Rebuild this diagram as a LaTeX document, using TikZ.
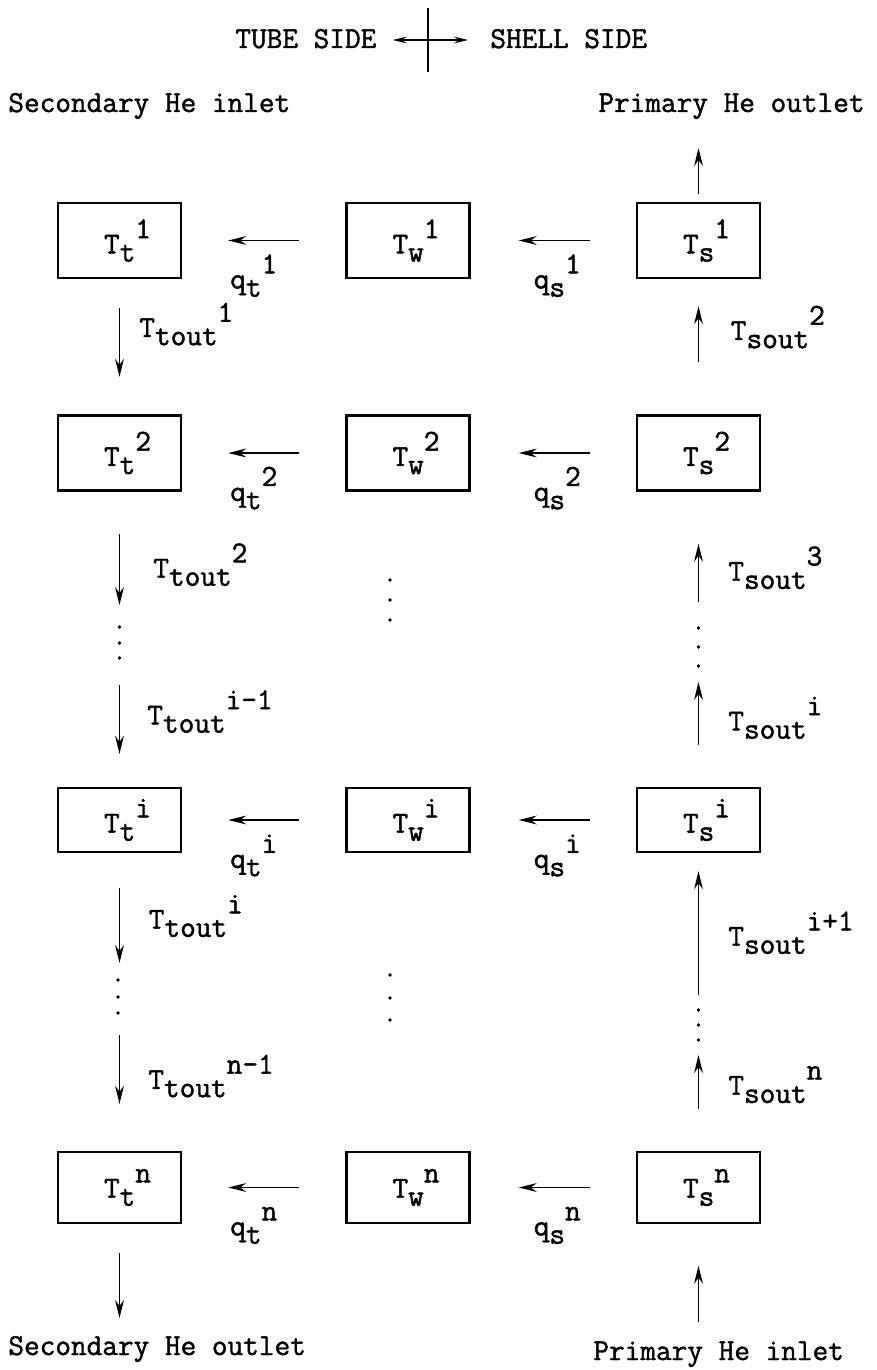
\documentclass[tikz,border=0pt]{standalone}
\usepackage{fontspec}
\usetikzlibrary{arrows.meta}
% typewriter face, slightly emboldened
\newfontfamily\typew{lmmono12-regular}[Extension=.otf, FakeBold=1.4]
\newcommand\diagfont{\typew\fontsize{15.2pt}{18pt}\selectfont}
% symbol with a lowered subscript and a raised superscript, typewriter style
\newcommand\vlab[3]{#1\raisebox{-0.27em}{#2}\raisebox{0.5em}{#3}}
\newcommand\cellab[3]{\hspace*{8pt}\vlab{#1}{#2}{#3}}
\begin{document}
\begin{tikzpicture}[x=0.5pt,y=-0.5pt,
  every node/.style={font=\diagfont, inner sep=0pt},
  cell/.style={draw, line width=1.2pt, minimum width=61.5pt, minimum height=37.5pt},
  flow/.style={-{Stealth[length=9pt,width=4.4pt,inset=3pt]}, line width=0.9pt},
  thinflow/.style={-{Stealth[length=7pt,width=3.4pt,inset=2.5pt]}, line width=0.7pt},
  qtlab/.style={midway, anchor=base, xshift=-5pt, yshift=-24pt},
  qslab/.style={midway, anchor=base, xshift=2pt, yshift=-24pt},
  vlabel/.style={midway, anchor=base west},
]
\useasboundingbox (0,0) rectangle (877,1370);

% ---- legend: tube side / shell side ----
\node[anchor=base west] (tube) at (235,48) {TUBE SIDE};
\node[anchor=base west] (shell) at (490,48) {SHELL SIDE};
\coordinate (cross) at (428,40);
\coordinate (crossTop) at (428,8);
\coordinate (crossBot) at (428,72);
\draw[line width=0.6pt] (crossTop) -- (crossBot);
\draw[thinflow, shorten >=8pt] (cross) -- (cross -| tube.east);
\draw[thinflow, shorten >=11pt] (cross) -- (cross -| shell.west);

% ---- inlets and outlets ----
\node[anchor=base west] (secIn) at (8,112) {Secondary He inlet};
\node[anchor=base west] (priOut) at (598,112) {Primary He outlet};
\node[anchor=base west] (secOut) at (8,1355) {Secondary He outlet};
\node[anchor=base west] (priIn) at (593,1360) {Primary He inlet};

% ---- temperature cells ----
\node[cell] (Tt1) at (119.5,240.5) {\cellab{T}{t}{1}};
\node[cell] (Tw1) at (408,240.5) {\cellab{T}{w}{1}};
\node[cell] (Ts1) at (698.5,240.5) {\cellab{T}{s}{1}};

\node[cell] (Tt2) at (119.5,453) {\cellab{T}{t}{2}};
\node[cell] (Tw2) at (408,453) {\cellab{T}{w}{2}};
\node[cell] (Ts2) at (698.5,453) {\cellab{T}{s}{2}};

\node[cell, minimum height=32pt] (Tti) at (119.5,820) {\cellab{T}{t}{i}};
\node[cell, minimum height=32pt] (Twi) at (408,820) {\cellab{T}{w}{i}};
\node[cell, minimum height=32pt] (Tsi) at (698.5,820) {\cellab{T}{s}{i}};

\node[cell, minimum height=35.5pt] (Ttn) at (119.5,1187.5) {\cellab{T}{t}{n}};
\node[cell, minimum height=35.5pt] (Twn) at (408,1187.5) {\cellab{T}{w}{n}};
\node[cell, minimum height=35.5pt] (Tsn) at (698.5,1187.5) {\cellab{T}{s}{n}};

% ---- heat flows: shell -> wall -> tube ----
\draw[flow, shorten <=23pt, shorten >=23pt] (Tw1) -- (Tt1) node[qtlab] {\vlab{q}{t}{1}};
\draw[flow, shorten <=23pt, shorten >=24pt] (Ts1) -- (Tw1) node[qslab] {\vlab{q}{s}{1}};
\draw[flow, shorten <=23pt, shorten >=23pt] (Tw2) -- (Tt2) node[qtlab] {\vlab{q}{t}{2}};
\draw[flow, shorten <=23pt, shorten >=24pt] (Ts2) -- (Tw2) node[qslab] {\vlab{q}{s}{2}};
\draw[flow, shorten <=23pt, shorten >=23pt] (Twi) -- (Tti) node[qtlab] {\vlab{q}{t}{i}};
\draw[flow, shorten <=23pt, shorten >=24pt] (Tsi) -- (Twi) node[qslab] {\vlab{q}{s}{i}};
\draw[flow, shorten <=23pt, shorten >=23pt] (Twn) -- (Ttn) node[qtlab] {\vlab{q}{t}{n}};
\draw[flow, shorten <=23pt, shorten >=24pt] (Tsn) -- (Twn) node[qslab] {\vlab{q}{s}{n}};

% ---- tube side, flowing down ----
\draw[flow, shorten <=14.5pt, shorten >=18.75pt] (Tt1) -- (Tt2)
  node[vlabel, xshift=9.5pt, yshift=4.9pt] {\vlab{T}{tout}{1}};
\coordinate (tA) at (119.5,605);
\draw[flow, shorten <=21.25pt] (Tt2) -- (tA)
  node[vlabel, xshift=16.5pt, yshift=-14.6pt] {\vlab{T}{tout}{2}};
\foreach \y in {627,643,658} \fill (119.5,\y) circle[radius=0.9pt];
\coordinate (tB) at (119.5,685);
\draw[flow, shorten >=16.5pt] (tB) -- (Tti)
  node[vlabel, xshift=13.5pt, yshift=5.75pt] {\vlab{T}{tout}{i-1}};
\coordinate (tC) at (119.5,963);
\draw[flow, shorten <=17.5pt] (Tti) -- (tC)
  node[vlabel, xshift=14.25pt, yshift=-10.25pt] {\vlab{T}{tout}{i}};
\foreach \y in {980,997,1013} \fill (118,\y) circle[radius=0.9pt];
\coordinate (tD) at (119.5,1035);
\draw[flow, shorten >=23.5pt] (tD) -- (Ttn)
  node[vlabel, xshift=14pt, yshift=2pt] {\vlab{T}{tout}{n-1}};
\coordinate (tE) at (119.5,1318);
\draw[flow, shorten <=14.5pt] (Ttn) -- (tE);

% ---- wall column continuation ----
\foreach \y in {580,600,620} \fill (390,\y) circle[radius=0.9pt];
\foreach \y in {975,998,1020} \fill (390,\y) circle[radius=0.9pt];

% ---- shell side, flowing up ----
\coordinate (sTop) at (698.5,148);
\draw[flow, shorten <=4pt] (Ts1) -- (sTop);
\draw[flow, shorten <=26.25pt, shorten >=13.5pt] (Ts2) -- (Ts1)
  node[vlabel, xshift=15.75pt, yshift=3.4pt] {\vlab{T}{sout}{2}};
\coordinate (sA) at (698.5,602);
\draw[flow, shorten >=26pt] (sA) -- (Ts2)
  node[vlabel, xshift=14.5pt, yshift=-16.9pt] {\vlab{T}{sout}{3}};
\foreach \y in {628,647,666} \fill (698.5,\y) circle[radius=0.9pt];
\coordinate (sB) at (698.5,682);
\draw[flow, shorten <=21pt] (Tsi) -- (sB)
  node[vlabel, xshift=14.5pt, yshift=2pt] {\vlab{T}{sout}{i}};
\coordinate (sC) at (698.5,995);
\draw[flow, shorten >=9pt] (sC) -- (Tsi)
  node[vlabel, xshift=14.5pt, yshift=-10.75pt] {\vlab{T}{sout}{i+1}};
\foreach \y in {1010,1025,1040} \fill (698.5,\y) circle[radius=0.9pt];
\coordinate (sD) at (698.5,1055);
\draw[flow, shorten <=20.75pt] (Tsn) -- (sD)
  node[vlabel, xshift=14.5pt, yshift=4.1pt] {\vlab{T}{sout}{n}};
\coordinate (sE) at (698.5,1322);
\draw[flow, shorten >=20.75pt] (sE) -- (Tsn);
\end{tikzpicture}
\end{document}
